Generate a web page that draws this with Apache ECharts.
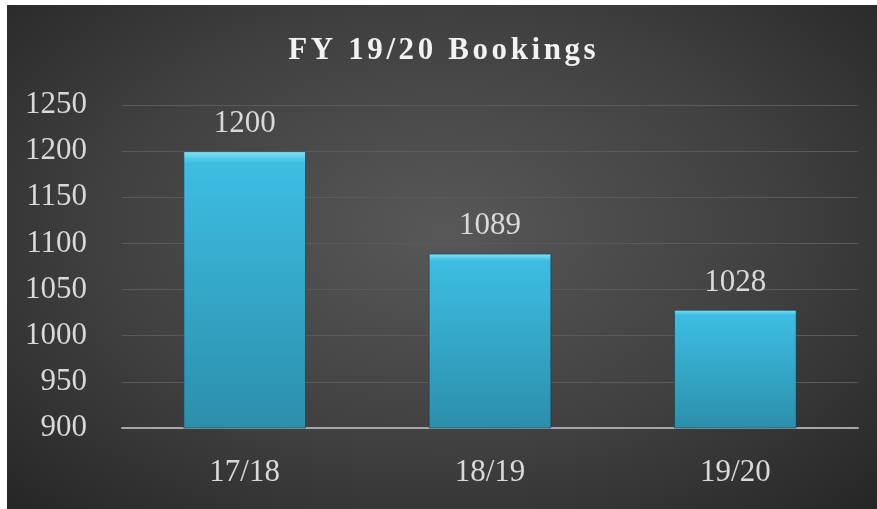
<!DOCTYPE html>
<html>
<head>
<meta charset="utf-8">
<style>
  html, body { margin: 0; padding: 0; background: #ffffff; }
  #chart {
    position: absolute; left: 7px; top: 5px; width: 870px; height: 504px;
    background: radial-gradient(ellipse at 50% 45%, #585858 0%, #404040 55%, #262626 100%);
  }
</style>
<script src="https://cdn.jsdelivr.net/npm/echarts@6/dist/echarts.min.js"></script>
</head>
<body>
<div id="chart"></div>
<script>
// chart data
var titleText = 'FY 19/20 Bookings';
var categories = ['17/18', '18/19', '19/20'];
var bookings = [1200, 1089, 1028];
var yMin = 900, yMax = 1250, yStep = 50;

var chart = echarts.init(document.getElementById('chart'));
var serif = "'Liberation Serif', 'DejaVu Serif', serif";

// letter spaced title: every char is its own rich token with side padding
var spacedTitle = titleText.split('').map(function (c) {
  return '{s|' + c + '}';
}).join('');

chart.setOption({
  backgroundColor: 'transparent',
  animation: false,
  title: {
    text: spacedTitle,
    left: 'center',
    top: 25,
    textStyle: {
      rich: {
        s: {
          color: '#f2f2f2',
          fontFamily: serif,
          fontWeight: 'bold',
          fontSize: 31,
          padding: [0, 1.8]
        }
      }
    }
  },
  grid: { left: 115, right: 19, top: 100, bottom: 81 },
  xAxis: {
    type: 'category',
    data: categories,
    axisLine: { lineStyle: { color: '#a6a6a6', width: 2 } },
    axisTick: { show: false },
    axisLabel: { color: '#d9d9d9', fontFamily: serif, fontSize: 31, margin: 29 }
  },
  yAxis: {
    type: 'value',
    min: yMin,
    max: yMax,
    interval: yStep,
    axisLine: { show: false },
    axisTick: { show: false },
    splitLine: { lineStyle: { color: '#5a5a5a', width: 1 } },
    axisLabel: {
      color: '#d9d9d9', fontFamily: serif, fontSize: 31, margin: 35,
      formatter: function (v) { return String(v); }
    }
  },
  series: [{
    type: 'bar',
    data: bookings,
    barWidth: '50%',
    itemStyle: {
      borderColor: 'rgba(20,60,75,0.6)',
      borderWidth: 1,
      color: new echarts.graphic.LinearGradient(0, 0, 0, 1, [
        { offset: 0, color: '#8ae6f8' },
        { offset: 0.025, color: '#55cbe9' },
        { offset: 0.045, color: '#3dbde2' },
        { offset: 1, color: '#2c8fab' }
      ])
    },
    label: {
      show: true,
      position: 'top',
      distance: 12,
      color: '#d9d9d9',
      fontFamily: serif,
      fontSize: 31
    }
  }]
});
</script>
</body>
</html>
